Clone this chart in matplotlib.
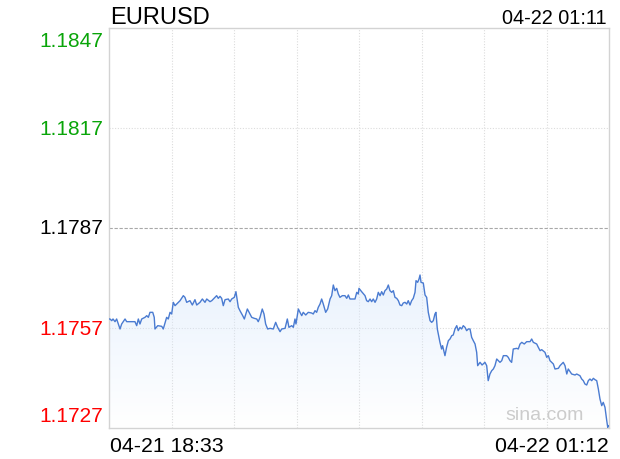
import numpy as np
import matplotlib
matplotlib.use("Agg")
import matplotlib.pyplot as plt
from matplotlib.patches import Polygon

plt.rcParams['font.family'] = ['Liberation Sans', 'DejaVu Sans']

symbol = "EURUSD"
stamp = "04-22 01:11"
start_label = "04-21 18:33"
end_label = "04-22 01:12"

# minutes since 18:33
minutes = [0, 0.8, 2.2, 3.2, 4.8, 6.1, 8.8, 10.1, 12.8, 14.1, 20.7, 22.1, 23.4, 24.7, 26.1,
           28.7, 30.1, 31.4, 32.7, 34.9, 36.1, 36.7, 38.9, 42.1, 43.3, 46.0, 47.3, 48.7, 50.0,
           51.3, 52.7, 54.0, 56.7, 59.3, 60.6, 62.0, 64.6, 66.5, 68.6, 70.0, 72.6, 74.5, 76.6,
           78.0, 80.6, 82.0, 84.6, 85.9, 87.2, 88.6, 89.9, 91.2, 92.6, 95.2, 96.6, 97.9, 100.0,
           101.3, 102.4, 103.2, 104.5, 106.7, 108.0, 110.4, 112.5, 113.9, 115.9, 117.9, 119.1,
           120.5, 122.3, 123.7, 125.0, 126.6, 128.5, 131.1, 133.0, 134.6, 136.5, 137.8, 140.5,
           142.3, 143.6, 145.8, 147.1, 148.4, 149.2, 151.1, 152.4, 153.8, 155.0, 157.0, 159.0,
           161.7, 163.0, 164.4, 165.7, 167.0, 168.4, 169.7, 171.0, 172.9, 174.5, 176.4, 177.7,
           179.0, 180.3, 181.7, 183.0, 184.3, 186.2, 188.3, 189.7, 191.0, 192.3, 196.3, 197.7,
           198.9, 199.5, 201.6, 204.3, 205.6, 206.9, 208.3, 209.6, 210.9, 212.3, 213.6, 214.9,
           216.3, 217.6, 218.9, 220.2, 221.6, 222.9, 224.2, 225.6, 226.9, 228.2, 229.6, 230.9,
           232.2, 233.6, 234.8, 236.2, 237.6, 238.8, 240.2, 241.5, 242.8, 244.2, 245.0, 246.3,
           247.4, 248.2, 249.0, 250.8, 252.2, 253.5, 254.8, 256.2, 257.5, 258.8, 260.1, 260.9,
           262.0, 264.1, 265.4, 266.2, 268.1, 269.4, 270.8, 272.1, 273.5, 274.7, 276.1, 277.5,
           278.7, 280.1, 281.4, 282.7, 284.1, 285.4, 286.7, 288.1, 289.4, 290.7, 292.1, 293.4,
           294.2, 296.1, 297.7, 300.0, 301.4, 302.6, 304.0, 305.4, 306.7, 308.0, 309.4, 310.7,
           312.0, 313.4, 314.7, 317.3, 318.6, 320.0, 321.3, 322.6, 325.4, 326.6, 328.0, 329.4,
           331.4, 333.3, 336.0, 337.3, 338.6, 341.3, 342.6, 344.0, 345.3, 347.9, 349.3, 350.6,
           351.9, 354.6, 355.9, 358.6, 359.9, 362.5, 363.9, 365.3, 366.5, 367.9, 369.2, 371.9,
           373.2, 375.8, 377.2, 378.5, 379.8, 381.2, 382.5, 383.8, 385.2, 386.5, 387.8, 389.2,
           390.5, 391.8, 393.2, 394.4, 395.8, 397.2, 398.0, 398.5]

price = [1.17597, 1.17597, 1.17592, 1.17597, 1.17589, 1.17597, 1.17567, 1.17582, 1.17597, 1.17589,
         1.17589, 1.17577, 1.17597, 1.17582, 1.17597, 1.17602, 1.17607, 1.17602, 1.17617, 1.17617,
         1.17602, 1.17567, 1.17577, 1.17575, 1.17567, 1.17602, 1.17597, 1.17617, 1.17612, 1.17647,
         1.17637, 1.17642, 1.17652, 1.17667, 1.17662, 1.17647, 1.17652, 1.17639, 1.17655, 1.17639,
         1.17647, 1.17657, 1.17647, 1.17657, 1.17649, 1.17652, 1.17662, 1.17667, 1.17659, 1.17665,
         1.17659, 1.17637, 1.17655, 1.17657, 1.17649, 1.17657, 1.17662, 1.17679, 1.17652, 1.17632,
         1.17622, 1.17607, 1.17597, 1.17627, 1.17612, 1.17602, 1.17599, 1.17597, 1.17589, 1.17602,
         1.17627, 1.17612, 1.17582, 1.17567, 1.17569, 1.17567, 1.17587, 1.17572, 1.17559, 1.17567,
         1.17569, 1.17597, 1.17572, 1.17577, 1.17572, 1.17597, 1.17582, 1.17627, 1.17617, 1.17607,
         1.17617, 1.17609, 1.17617, 1.17615, 1.17612, 1.17622, 1.17617, 1.17632, 1.17642, 1.17657,
         1.17642, 1.17617, 1.17627, 1.17657, 1.17667, 1.17699, 1.17682, 1.17689, 1.17672, 1.17662,
         1.17667, 1.17667, 1.17659, 1.17669, 1.17657, 1.17657, 1.17677, 1.17672, 1.17689, 1.17679,
         1.17667, 1.17652, 1.17649, 1.17657, 1.17649, 1.17657, 1.17647, 1.17657, 1.17677, 1.17667,
         1.17679, 1.17669, 1.17682, 1.17687, 1.17699, 1.17682, 1.17677, 1.17682, 1.17662, 1.17659,
         1.17652, 1.17639, 1.17637, 1.17645, 1.17647, 1.17642, 1.17652, 1.17639, 1.17652, 1.17659,
         1.17677, 1.17712, 1.17707, 1.17717, 1.17729, 1.17707, 1.17705, 1.17669, 1.17662, 1.17617,
         1.17592, 1.17587, 1.17592, 1.17612, 1.17617, 1.17567, 1.17527, 1.17507, 1.17517, 1.17487,
         1.17512, 1.17532, 1.17537, 1.17547, 1.17549, 1.17567, 1.17577, 1.17562, 1.17572, 1.17567,
         1.17577, 1.17572, 1.17562, 1.17567, 1.17567, 1.17542, 1.17532, 1.17522, 1.17497, 1.17457,
         1.17467, 1.17459, 1.17467, 1.17457, 1.17412, 1.17432, 1.17442, 1.17447, 1.17457, 1.17477,
         1.17472, 1.17467, 1.17472, 1.17487, 1.17487, 1.17482, 1.17472, 1.17467, 1.17507, 1.17509,
         1.17507, 1.17522, 1.17527, 1.17522, 1.17529, 1.17529, 1.17537, 1.17527, 1.17522, 1.17512,
         1.17502, 1.17505, 1.17497, 1.17482, 1.17487, 1.17472, 1.17462, 1.17447, 1.17449, 1.17457,
         1.17467, 1.17457, 1.17432, 1.17447, 1.17439, 1.17432, 1.17429, 1.17432, 1.17427, 1.17417,
         1.17412, 1.17402, 1.17399, 1.17412, 1.17417, 1.17412, 1.17419, 1.17415, 1.17412, 1.17387,
         1.17357, 1.17337, 1.17347, 1.17332, 1.17292, 1.17272, 1.17277]

y_ticks = [1.1847, 1.1817, 1.1787, 1.1757, 1.1727]
y_colors = ['#09a509', '#09a509', '#000000', '#ff0000', '#ff0000']
span = 399

fig = plt.figure(figsize=(6.2, 4.6), dpi=100)
ax = fig.add_axes([109 / 620, 31 / 460, 500 / 620, 400 / 460])
ax.set_xlim(0, span)
ax.set_ylim(y_ticks[-1], y_ticks[0])

# gridlines
for i in range(1, 8):
    ax.axvline(span * i / 8, color='#dcdcdc', lw=0.8, ls=(0, (1, 1.5)), zorder=1)
for v in [1.1817, 1.1757]:
    ax.axhline(v, color='#dcdcdc', lw=0.8, ls=(0, (1, 1.5)), zorder=1)
ax.axhline(1.1787, color='#a8a8a8', lw=0.8, ls=(0, (3, 1.5)), zorder=1)

# gradient fill under line
x = np.array(minutes)
y = np.array(price)
verts = np.column_stack([np.r_[x[0], x, x[-1]], np.r_[y_ticks[-1], y, y_ticks[-1]]])
poly = Polygon(verts, closed=True, facecolor='none', edgecolor='none')
ax.add_patch(poly)
grad = np.linspace(1, 0, 256).reshape(-1, 1)
rgba = np.zeros((256, 1, 4))
rgba[..., 0] = 0.85
rgba[..., 1] = 0.91
rgba[..., 2] = 0.99
rgba[..., 3] = grad * 0.55
img = ax.imshow(rgba, extent=[0, span, y_ticks[-1], y.max()], aspect='auto',
                origin='upper', zorder=2)
img.set_clip_path(poly)
ax.set_ylim(y_ticks[-1], y_ticks[0])
ax.set_xlim(0, span)

ax.plot(x, y, color='#4a7bd1', lw=1.0, zorder=3)

for s in ax.spines.values():
    s.set_color('#d3d3d3')
    s.set_linewidth(1)
ax.set_xticks([])
ax.set_yticks([])

# y labels
trans = ax.get_yaxis_transform()
for i, (v, c) in enumerate(zip(y_ticks, y_colors)):
    va = 'center'
    if i == 0:
        va = 'top'
    elif i == len(y_ticks) - 1:
        va = 'bottom'
    yy = v
    if i == 0:
        yy = v - 0.0001
    if i == len(y_ticks) - 1:
        yy = v + 0.0001
    ax.text(-0.012, yy, f"{v:.4f}", transform=trans, ha='right', va=va,
            color=c, fontsize=15)

fig.text(110 / 620, 1 - 24 / 460, symbol, fontsize=17, ha='left', va='baseline')
fig.text(607 / 620, 1 - 24 / 460, stamp, fontsize=14.3, ha='right', va='baseline')
fig.text(110 / 620, 1 - 452 / 460, start_label, fontsize=15.3, ha='left', va='baseline')
fig.text(609 / 620, 1 - 452 / 460, end_label, fontsize=15.3, ha='right', va='baseline')
fig.text(584 / 620, 1 - 420 / 460, "sina.com", fontsize=14, color='#cccccc',
         ha='right', va='baseline')

fig.savefig("out.png", dpi=100)
